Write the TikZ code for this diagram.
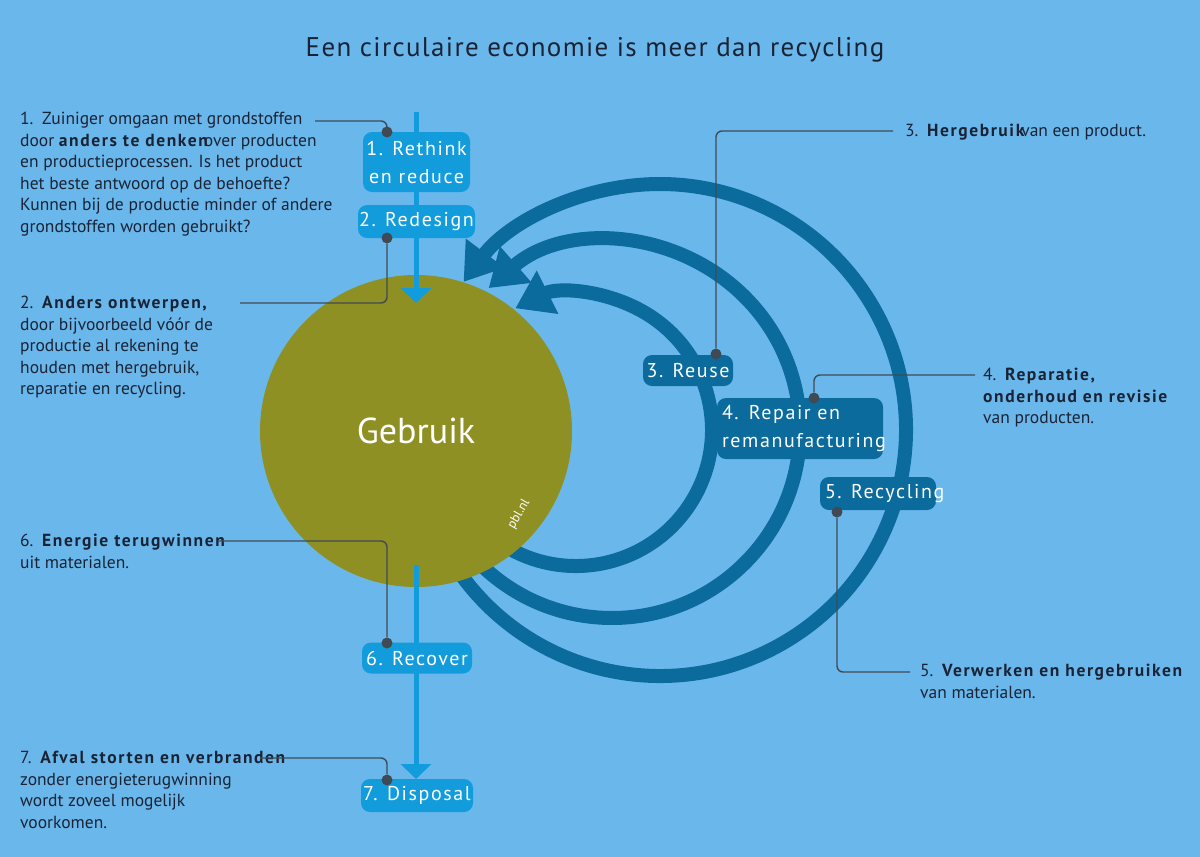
\documentclass[tikz,border=0pt]{standalone}
\usepackage{fontspec}
\setmainfont{PT Sans}
\newfontfamily\kwfont[LetterSpace=9]{PT Sans}
\newfontfamily\boxfont[LetterSpace=8]{PT Sans}
\newfontfamily\titlefont[LetterSpace=5]{PT Sans}
\usepackage{tikz}
\usetikzlibrary{arrows.meta,positioning,calc}

\definecolor{skyblue}{HTML}{6AB8EB}
\definecolor{usegreen}{HTML}{8E9024}
\definecolor{flowblue}{HTML}{129CDC}
\definecolor{ringblue}{HTML}{0B6B9D}
\definecolor{leadgray}{HTML}{404A54}
\definecolor{inkblue}{HTML}{1A2336}

\newcommand\kw[1]{{\kwfont\bfseries #1}}

\tikzset{
  flowbox/.style={fill=flowblue, rounded corners=9pt, text=white, inner sep=0pt,
    font=\boxfont\fontsize{20}{28}\selectfont},
  ringbox/.style={flowbox, fill=ringblue},
  flow/.style={draw=flowblue, line width=5pt, -{Triangle[length=15pt,width=30pt]}},
  ring/.style={draw=ringblue, line width=14pt, -{Triangle[length=36pt,width=46pt]}},
  leader/.style={draw=leadgray, line width=1.4pt, rounded corners=6pt},
  leaddot/.style={circle, fill=leadgray, inner sep=0pt, minimum size=11pt},
  note/.style={anchor=north west, align=left, inner sep=0pt, text=inkblue,
    font=\fontsize{17.5}{21.5}\selectfont},
}

\begin{document}
\begin{tikzpicture}[x=1pt, y=-1pt]
    % Canvas
    \useasboundingbox (0,0) rectangle (1200,857);
    \fill[skyblue] (0,0) rectangle (1200,857);

    % Title
    \node[font=\titlefont\fontsize{27}{30}\selectfont, text=inkblue] (title) at (595,50)
        {Een circulaire economie is meer dan recycling};

    % Loops back to use (inner to outer)
    \draw[ring] ([shift={(123:136)}]576,430) arc[start angle=123, end angle=-116.5, radius=136];
    \draw[ring] ([shift={(137:188)}]612,430) arc[start angle=137, end angle=-131, radius=188];
    \draw[ring] ([shift={(148:246)}]660,430) arc[start angle=148, end angle=-143, radius=246];

    % Use phase
    \node[circle, fill=usegreen, minimum size=312pt, inner sep=0pt, text=white,
        font=\fontsize{36}{40}\selectfont] (gebruik) at (416,431) {Gebruik};
    \node[rotate=60, text=white, inner sep=0pt, font=\fontsize{13}{13}\selectfont] (pbl)
        at (519,514) {pbl.nl};

    % Linear flow
    \coordinate (intop) at (416,112);
    \coordinate (inend) at (416,303);
    \coordinate (outtop) at (416,565);
    \coordinate (outend) at (416,779);
    \draw[flow] (intop) -- (inend);
    \draw[flow] (outtop) -- (outend);

    % Steps
    \node[flowbox, minimum width=107pt, minimum height=60pt, align=center] (rethink)
        at (416.5,162) {1. Rethink\\en reduce};
    \node[flowbox, minimum width=117pt, minimum height=33pt] (redesign)
        at (416.5,221.5) {2. Redesign};
    \node[ringbox, minimum width=90pt, minimum height=31pt] (reuse)
        at (688,370.5) {3. Reuse};
    \node[ringbox, text width=156pt, inner xsep=5pt, minimum height=61pt, align=left] (repair)
        at (800,428.5) {\makebox[156pt][l]{4. Repair en}\\\makebox[156pt][l]{remanufacturing}};
    \node[ringbox, inner xsep=5pt, minimum height=33pt] (recycling)
        at (878,493.5) {\makebox[106pt][l]{5. Recycling}};
    \node[flowbox, minimum width=110pt, minimum height=31pt] (recover)
        at (417,658) {6. Recover};
    \node[flowbox, minimum width=112pt, minimum height=33pt] (disposal)
        at (417,795.5) {7. Disposal};

    % Explanations
    \node[note] (n1) at (20,112) {1.\enspace Zuiniger omgaan met grondstoffen\\
        door \kw{anders te denken}\kern-4pt over producten\\
        en productieprocessen. Is het product\\
        het beste antwoord op de behoefte?\\
        Kunnen bij de productie minder of andere\\
        grondstoffen worden gebruikt?};
    \node[note] (n2) at (20,296) {2.\enspace\kw{Anders ontwerpen,}\\
        door bijvoorbeeld vóór de\\
        productie al rekening te\\
        houden met hergebruik,\\
        reparatie en recycling.};
    \node[note] (n3) at (905,124) {3.\enspace\kw{Hergebruik}\kern-3pt van een product.};
    \node[note] (n4) at (983,368) {4.\enspace\kw{Reparatie,}\\
        \kw{onderhoud en revisie}\\
        van producten.};
    \node[note] (n5) at (920,664) {5.\enspace\kw{Verwerken en hergebruiken}\\
        van materialen.};
    \node[note] (n6) at (20,534) {6.\enspace\kw{Energie terugwinnen}\\
        uit materialen.};
    \node[note] (n7) at (20,751) {7.\enspace\kw{Afval storten en verbranden}\\
        zonder energieterugwinning\\
        wordt zoveel mogelijk\\
        voorkomen.};

    % Leader lines
    \node[leaddot] (d1) at (387,132) {};
    \node[leaddot] (d2) at (387,238) {};
    \node[leaddot] (d3) at (716,354) {};
    \node[leaddot] (d4) at (814,398) {};
    \node[leaddot] (d5) at (837,512) {};
    \node[leaddot] (d6) at (387,643) {};
    \node[leaddot] (d7) at (387,780) {};
    \coordinate (l1) at (315,121);
    \coordinate (l2) at (240,303);
    \coordinate (l3) at (893,131);
    \coordinate (l4) at (975,375);
    \coordinate (l5) at (910,672);
    \coordinate (l6) at (218,541);
    \coordinate (l7) at (260,758);
    \draw[leader] (l1) -| (d1);
    \draw[leader] (l2) -| (d2);
    \draw[leader] (l3) -| (d3);
    \draw[leader] (l4) -| (d4);
    \draw[leader] (d5) |- (l5);
    \draw[leader] (l6) -| (d6);
    \draw[leader] (l7) -| (d7);
\end{tikzpicture}
\end{document}
